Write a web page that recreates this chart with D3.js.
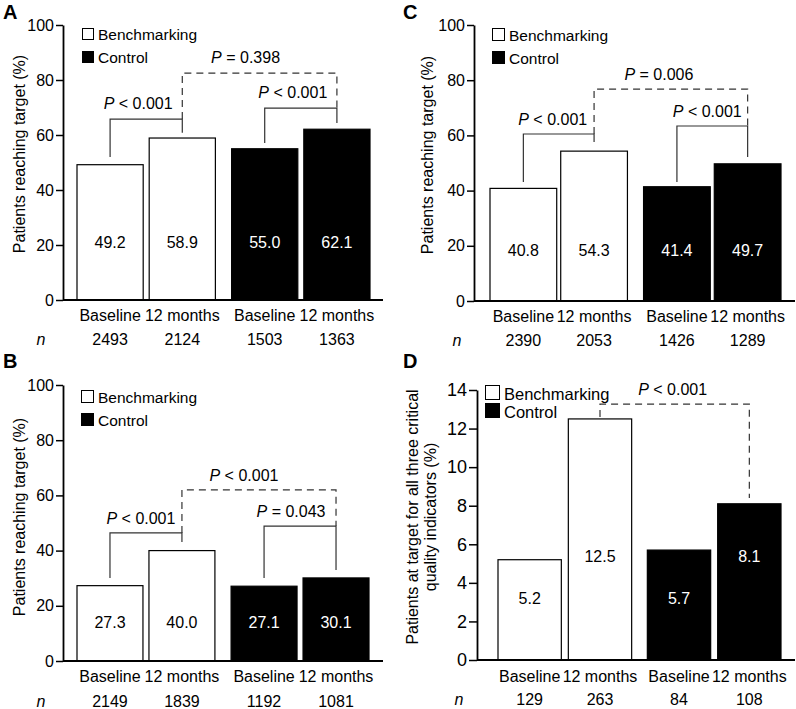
<!DOCTYPE html>
<html>
<head>
<meta charset="utf-8">
<script src="https://cdn.jsdelivr.net/npm/d3@7"></script>
<style>
  html, body { margin: 0; padding: 0; background: #fff; }
  svg { display: block; }
  text { font-family: "Liberation Sans", Arial, Helvetica, sans-serif; }
</style>
</head>
<body>
<script>
// ---------------- DATA ----------------
const groups = ["Benchmarking", "Control"];
const timepoints = ["Baseline", "12 months"];

const valuesA = [49.2, 58.9, 55.0, 62.1];
const valuesB = [27.3, 40.0, 27.1, 30.1];
const valuesC = [40.8, 54.3, 41.4, 49.7];
const valuesD = [5.2, 12.5, 5.7, 8.1];

const nA = [2493, 2124, 1503, 1363];
const nB = [2149, 1839, 1192, 1081];
const nC = [2390, 2053, 1426, 1289];
const nD = [129, 263, 84, 108];

const ticksPct = [0, 20, 40, 60, 80, 100];
const ticksD = [0, 2, 4, 6, 8, 10, 12, 14];

const yLabelPct = ["Patients reaching target (%)"];
const yLabelD = ["Patients at target for all three critical", "quality indicators (%)"];

// brackets: bar indices a→b, top level and leg ends in data units
const bracketsA = [
  { a: 0, b: 1, top: 65.8, legA: 52.0, legB: 60.8, op: "<", p: "0.001", dashed: false },
  { a: 2, b: 3, top: 69.8, legA: 57.1, legB: 64.4, op: "<", p: "0.001", dashed: false },
  { a: 1, b: 3, top: 82.5, legA: 65.8, legB: 69.8, op: "=", p: "0.398", dashed: true }
];
const bracketsB = [
  { a: 0, b: 1, top: 46.4, legA: 30.1, legB: 43.1, op: "<", p: "0.001", dashed: false },
  { a: 2, b: 3, top: 48.9, legA: 30.1, legB: 33.0, op: "=", p: "0.043", dashed: false },
  { a: 1, b: 3, top: 62.0, legA: 46.4, legB: 48.9, op: "<", p: "0.001", dashed: true }
];
const bracketsC = [
  { a: 0, b: 1, top: 60.5, legA: 43.1, legB: 57.6, op: "<", p: "0.001", dashed: false },
  { a: 2, b: 3, top: 63.4, legA: 43.1, legB: 52.2, op: "<", p: "0.001", dashed: false },
  { a: 1, b: 3, top: 76.8, legA: 60.5, legB: 63.4, op: "=", p: "0.006", dashed: true }
];
const bracketsD = [
  { a: 1, b: 3, top: 13.27, legA: 12.6, legB: 8.4, op: "<", p: "0.001", dashed: true }
];

// ---------------- LAYOUT ----------------
const panels = [
  { letter: "A", values: valuesA, n: nA, ticks: ticksPct, max: 100, ylabel: yLabelPct, brackets: bracketsA,
    axisX: 63, yTop: 25, yBot: 300, range: [77, 370], innerGap: 6, xEnd: 383,
    catY: 321, nY: 345, nX: 41, letterXY: [3, 19], legX: 82, legY: [28, 51], legSq: 11, legFont: 15.5,
    ylabXY: [25, 154], valAt: [21, 21, 21, 21], textDx: [-8, -8, -14], textDy: 10, tickFont: 16, tickLen: 7 },
  { letter: "B", values: valuesB, n: nB, ticks: ticksPct, max: 100, ylabel: yLabelPct, brackets: bracketsB,
    axisX: 63, yTop: 385, yBot: 661, range: [77, 369], innerGap: 6, xEnd: 383,
    catY: 682, nY: 707, nX: 41, letterXY: [3, 368], legX: 81, legY: [390, 413], legSq: 12, legFont: 15.5,
    ylabXY: [25, 517], valAt: [14, 14, 14, 14], textDx: [-5, -9, -15], textDy: 9, tickFont: 16, tickLen: 7 },
  { letter: "C", values: valuesC, n: nC, ticks: ticksPct, max: 100, ylabel: yLabelPct, brackets: bracketsC,
    axisX: 474, yTop: 25, yBot: 301, range: [490, 781], innerGap: 4, xEnd: 795,
    catY: 322, nY: 346, nX: 457, letterXY: [403, 19], legX: 492, legY: [28, 51], legSq: 12, legFont: 15.5,
    ylabXY: [433, 155], valAt: [18.5, 18.5, 18.5, 18.5], textDx: [-6, -5, -12], textDy: 9, tickFont: 16, tickLen: 7 },
  { letter: "D", values: valuesD, n: nD, ticks: ticksD, max: 14, ylabel: yLabelD, brackets: bracketsD,
    axisX: 477, yTop: 390, yBot: 660, range: [498, 781], innerGap: 7, xEnd: 795,
    catY: 682, nY: 705, nX: 459, letterXY: [403, 368], legX: 485, legY: [385, 403], legSq: 14, legFont: 16.5,
    ylabXY: [436, 517], valAt: [3.2, 5.4, 3.2, 5.4], textDx: [-2], textDy: 9, tickFont: 18, tickLen: 8 }
];

const W = 796, H = 709;
const svg = d3.select("body").append("svg").attr("width", W).attr("height", H);
const FS = 16;

panels.forEach(P => {
  const g = svg.append("g");
  const y = d3.scaleLinear().domain([0, P.max]).range([P.yBot, P.yTop]);
  const outer = d3.scaleBand().domain(groups).range(P.range).paddingInner(0.105);
  const inner = d3.scaleBand().domain(timepoints).range([0, outer.bandwidth()])
    .paddingInner(P.innerGap / (outer.bandwidth() / 2 + P.innerGap / 2));
  const bars = P.values.map((v, i) => {
    const grp = groups[Math.floor(i / 2)], tp = timepoints[i % 2];
    const x0 = outer(grp) + inner(tp);
    return { v, i, grp, tp, x0, w: inner.bandwidth(), cx: x0 + inner.bandwidth() / 2 };
  });

  // panel letter
  g.append("text").attr("x", P.letterXY[0]).attr("y", P.letterXY[1])
    .attr("font-size", 20).attr("font-weight", "bold").text(P.letter);

  // bars
  g.selectAll("rect.bar").data(bars).join("rect")
    .attr("x", d => d.x0).attr("y", d => y(d.v))
    .attr("width", d => d.w).attr("height", d => y(0) - y(d.v))
    .attr("fill", d => d.grp === "Control" ? "#000" : "#fff")
    .attr("stroke", "#000").attr("stroke-width", 1.2);

  // value labels
  g.selectAll("text.val").data(bars).join("text")
    .attr("x", d => d.cx).attr("y", d => y(P.valAt[d.i]))
    .attr("dy", "0.36em").attr("text-anchor", "middle").attr("font-size", FS)
    .attr("fill", d => d.grp === "Control" ? "#fff" : "#000")
    .text(d => d.v.toFixed(1));

  // y axis
  const ax = d3.axisLeft(y).tickValues(P.ticks).tickSize(P.tickLen).tickSizeOuter(0).tickPadding(2)
    .tickFormat(d3.format("d"));
  const axG = g.append("g").attr("transform", `translate(${P.axisX},0)`).call(ax);
  axG.select(".domain").attr("stroke-width", 1.8);
  axG.selectAll(".tick line").attr("stroke-width", 1.5);
  axG.selectAll(".tick text").attr("font-size", P.tickFont).attr("fill", "#000")
    .attr("font-family", '"Liberation Sans", Arial, sans-serif');

  // x axis line
  g.append("line").attr("x1", P.axisX).attr("x2", P.xEnd)
    .attr("y1", y(0)).attr("y2", y(0)).attr("stroke", "#000").attr("stroke-width", 1.8);

  // category labels and n
  g.selectAll("text.cat").data(bars).join("text")
    .attr("x", d => d.cx).attr("y", P.catY).attr("text-anchor", "middle")
    .attr("font-size", FS).text(d => d.tp);
  g.selectAll("text.n").data(bars).join("text")
    .attr("x", d => d.cx).attr("y", P.nY).attr("text-anchor", "middle")
    .attr("font-size", FS).text(d => P.n[d.i]);
  g.append("text").attr("x", P.nX).attr("y", P.nY).attr("text-anchor", "middle")
    .attr("font-size", FS).attr("font-style", "italic").text("n");

  // y label
  const yl = g.append("text").attr("text-anchor", "middle").attr("font-size", FS)
    .attr("transform", `translate(${P.ylabXY[0]},${P.ylabXY[1]}) rotate(-90)`);
  P.ylabel.forEach((line, k) => {
    yl.append("tspan").attr("x", 0).attr("dy", k === 0 ? (-(P.ylabel.length - 1) * 18) : 18).text(line);
  });

  // legend
  groups.forEach((grp, k) => {
    const ly = P.legY[k];
    g.append("rect").attr("x", P.legX + 0.5).attr("y", ly + 0.5)
      .attr("width", P.legSq).attr("height", P.legSq)
      .attr("fill", grp === "Control" ? "#000" : "#fff")
      .attr("stroke", "#000").attr("stroke-width", 1);
    g.append("text").attr("x", P.legX + P.legSq + 5).attr("y", ly + P.legSq + 0.5)
      .attr("font-size", P.legFont).text(grp);
  });

  // brackets
  P.brackets.forEach((b, k) => {
    const xa = bars[b.a].cx, xb = bars[b.b].cx;
    const path = d3.path();
    path.moveTo(xa, y(b.legA)); path.lineTo(xa, y(b.top));
    path.lineTo(xb, y(b.top)); path.lineTo(xb, y(b.legB));
    g.append("path").attr("d", path.toString()).attr("fill", "none")
      .attr("stroke", "#333").attr("stroke-width", 1.2)
      .attr("stroke-dasharray", b.dashed ? "7,5" : null);
    const t = g.append("text").attr("x", (xa + xb) / 2 + P.textDx[k])
      .attr("y", y(b.top) - P.textDy).attr("text-anchor", "middle").attr("font-size", FS);
    t.append("tspan").attr("font-style", "italic").text("P");
    t.append("tspan").text(" " + b.op + " " + b.p);
  });
});
</script>
</body>
</html>
